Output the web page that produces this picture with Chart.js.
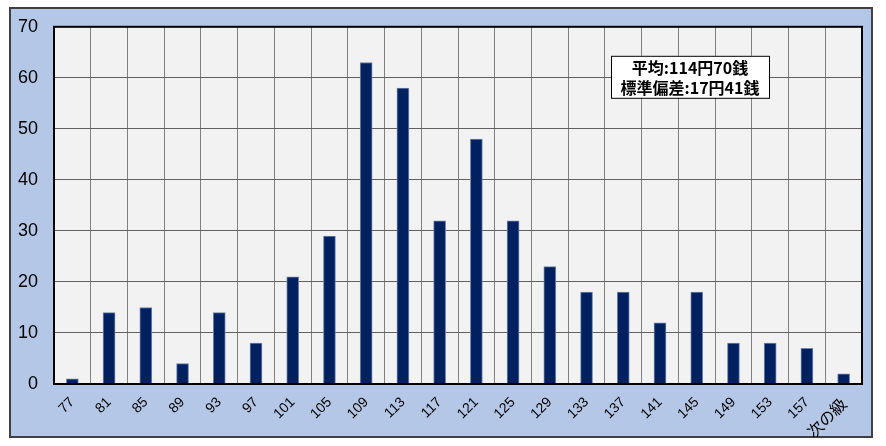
<!DOCTYPE html>
<html>
<head>
<meta charset="utf-8">
<script src="https://cdn.jsdelivr.net/npm/chart.js@4"></script>
<style>
  html, body { margin: 0; padding: 0; background: #ffffff; }
  #wrap { width: 886px; height: 446px; position: relative; }
</style>
</head>
<body>
<div id="wrap"><canvas id="chart" width="886" height="446"></canvas></div>
<script>
// price classes (yen) and counts
const categories = ['77', '81', '85', '89', '93', '97', '101', '105', '109', '113', '117',
    '121', '125', '129', '133', '137', '141', '145', '149', '153', '157', '次の級'];
const counts = [1, 14, 15, 4, 14, 8, 21, 29, 63, 58, 32, 48, 32, 23, 18, 18, 12, 18, 8, 8, 7, 2];
const yTicks = [0, 10, 20, 30, 40, 50, 60, 70];
const noteLines = ['平均:114円70銭', '標準偏差:17円41銭'];

const ctx = document.getElementById('chart');

// outer frame + plot area background
const framePlugin = {
    id: 'frame',
    beforeDraw(chart) {
        const c = chart.ctx;
        const a = chart.chartArea;
        c.save();
        c.fillStyle = '#B4C7E7';
        c.fillRect(10, 8, 862, 429);
        c.strokeStyle = '#404040';
        c.lineWidth = 2;
        c.strokeRect(10, 8, 862, 429);
        c.fillStyle = '#F2F2F2';
        c.fillRect(a.left, a.top, a.right - a.left, a.bottom - a.top);
        c.restore();
    },
    afterDraw(chart) {
        const c = chart.ctx;
        const a = chart.chartArea;
        c.save();
        c.strokeStyle = '#000000';
        c.lineWidth = 2;
        c.strokeRect(a.left, a.top, a.right - a.left, a.bottom - a.top);

        // note box
        const bx = a.left + 557, by = a.top + 29, bw = 158, bh = 42;
        c.fillStyle = '#ffffff';
        c.fillRect(bx, by, bw, bh);
        c.strokeStyle = '#000000';
        c.lineWidth = 1;
        c.strokeRect(bx + 0.5, by + 0.5, bw, bh);
        c.fillStyle = '#000000';
        c.font = 'bold 16px "Noto Sans CJK JP", sans-serif';
        c.textAlign = 'center';
        c.textBaseline = 'middle';
        c.fillText(noteLines[0], bx + bw / 2, by + 12);
        c.fillText(noteLines[1], bx + bw / 2, by + 32);
        c.restore();
    }
};

new Chart(ctx, {
    type: 'bar',
    data: {
        labels: categories,
        datasets: [{
            data: counts,
            backgroundColor: '#002060',
            borderColor: '#6F82A8',
            borderWidth: 1,
            barThickness: 12
        }]
    },
    options: {
        responsive: false,
        animation: false,
        layout: { padding: { left: 10, top: 22, right: 24, bottom: 0 } },
        plugins: {
            legend: { display: false },
            tooltip: { enabled: false }
        },
        scales: {
            x: {
                afterFit: s => { s.height = 62; },
                grid: {
                    color: '#808080',
                    lineWidth: 1,
                    offset: true,
                    drawTicks: false
                },
                border: { color: '#000000', width: 2 },
                ticks: {
                    color: '#000000',
                    // the last class label is Japanese, drawn a bit bigger
                    font: c => c.index === categories.length - 1
                        ? { family: '"Noto Sans CJK JP", sans-serif', size: 16 }
                        : { family: 'Arial, "Liberation Sans", sans-serif', size: 14 },
                    maxRotation: 45,
                    minRotation: 45,
                    padding: 10,
                    autoSkip: false
                }
            },
            y: {
                min: 0,
                max: 70,
                afterFit: s => { s.width = 44; },
                afterBuildTicks: s => { s.ticks = yTicks.map(v => ({ value: v })); },
                grid: {
                    color: '#606060',
                    lineWidth: 1,
                    drawTicks: false
                },
                border: { color: '#000000', width: 2 },
                ticks: {
                    color: '#000000',
                    font: { family: 'Arial, "Liberation Sans", sans-serif', size: 18 },
                    padding: 16
                }
            }
        }
    },
    plugins: [framePlugin]
});
</script>
</body>
</html>
